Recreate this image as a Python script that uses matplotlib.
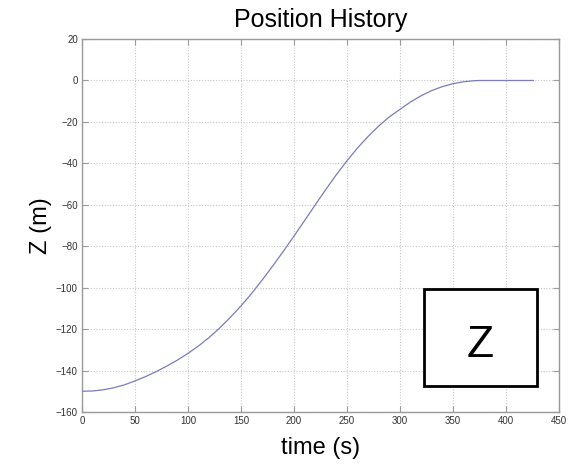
"""
Position History — Z vs time, MATLAB style plot
"""

import matplotlib
matplotlib.use("Agg")
import matplotlib.pyplot as plt
from matplotlib.patches import Rectangle

# ── Data ───────────────────────────────────────────────────────────────────
time_s = [0, 10, 20, 30, 40, 50, 60, 70, 80, 90, 100, 110, 120, 130, 140,
          150, 160, 170, 180, 190, 200, 210, 220, 230, 240, 250, 260, 270,
          280, 290, 300, 310, 320, 330, 340, 350, 360, 370, 375, 400, 426]
z_m = [-150, -149.85, -149.3, -148.3, -146.9, -145.0, -142.9, -140.5,
       -137.85, -134.95, -131.7, -128.1, -124.0, -119.4, -114.3, -108.8,
       -102.8, -96.3, -89.5, -82.4, -75.1, -67.6, -60.1, -52.65, -45.45,
       -38.75, -32.55, -26.95, -21.95, -17.55, -13.95, -10.35, -7.35,
       -4.85, -2.95, -1.55, -0.6, -0.1, 0, 0, 0]

x_ticks = [0, 50, 100, 150, 200, 250, 300, 350, 400, 450]
y_ticks = [-160, -140, -120, -100, -80, -60, -40, -20, 0, 20]

# ── Style ──────────────────────────────────────────────────────────────────
LINE_COLOR  = "#7b7bbd"
SPINE_COLOR = "#9a9a9a"
GRID_COLOR  = "#c8c8c8"
TEXT_COLOR  = "#000000"

plt.rcParams["font.family"] = ["Liberation Sans", "DejaVu Sans"]

fig = plt.figure(figsize=(5.83, 4.65), dpi=100, facecolor="white")
ax = fig.add_axes([0.1407, 0.114, 0.818, 0.802])

ax.plot(time_s, z_m, color=LINE_COLOR, linewidth=0.9, zorder=3)

ax.set_xlim(0, 450)
ax.set_ylim(-160, 20)
ax.set_xticks(x_ticks)
ax.set_yticks(y_ticks)

ax.grid(True, color=GRID_COLOR, linestyle=(0, (1, 1.5)), linewidth=0.8, zorder=0)
for spine in ax.spines.values():
    spine.set_edgecolor(SPINE_COLOR)
    spine.set_linewidth(1.0)
ax.tick_params(direction="in", length=4, width=0.8, color=SPINE_COLOR,
               labelsize=7, labelcolor="#333333", pad=3,
               top=True, right=True)

ax.set_title("Position History", fontsize=18, color=TEXT_COLOR, pad=9)
ax.set_xlabel("time (s)", fontsize=17, color=TEXT_COLOR, labelpad=8)
ax.set_ylabel("Z (m)", fontsize=17, color=TEXT_COLOR, labelpad=3)

# Label box in the lower right
ax.add_patch(Rectangle((323, -147.5), 106, 47, facecolor="white",
                       edgecolor="black", linewidth=2, zorder=5))
ax.text(376, -128, "Z", fontsize=32, ha="center", va="center",
        color="black", zorder=6)

fig.savefig("out.png", dpi=100, facecolor="white")
plt.close(fig)
